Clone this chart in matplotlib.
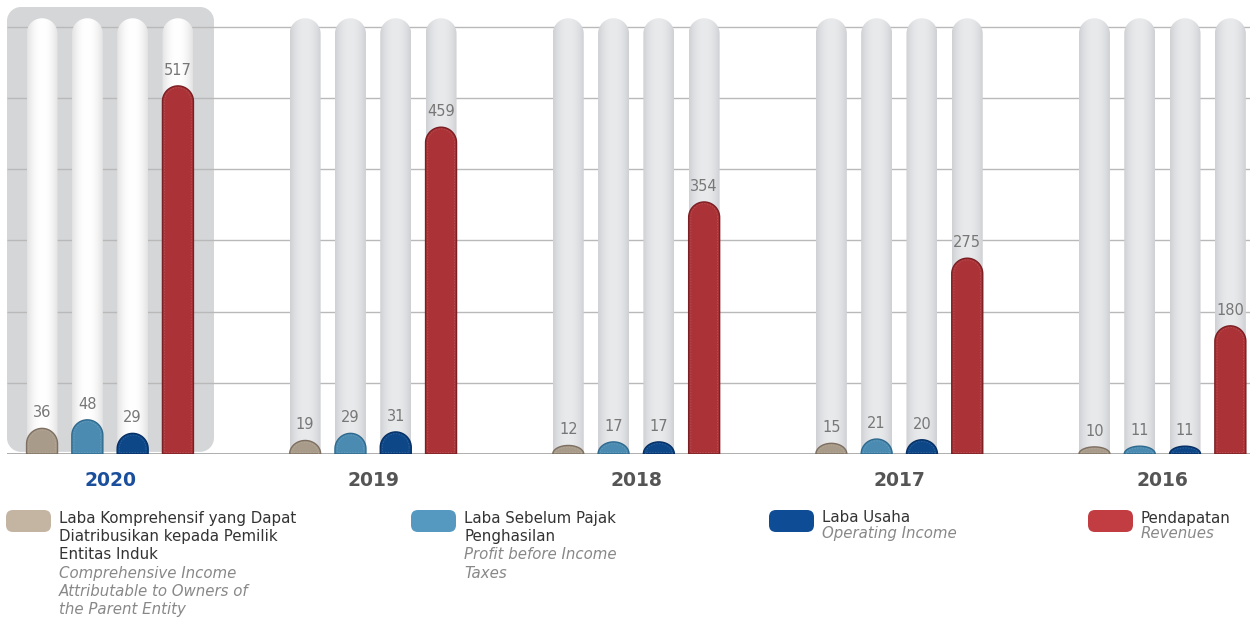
import numpy as np
import matplotlib.pyplot as plt
from matplotlib.path import Path
from matplotlib.patches import PathPatch, FancyBboxPatch
from matplotlib.colors import LinearSegmentedColormap

plt.rcParams["font.family"] = ["DejaVu Sans"]

years = ["2020", "2019", "2018", "2017", "2016"]
comprehensive = [36, 19, 12, 15, 10]
before_tax = [48, 29, 17, 21, 11]
operating = [29, 31, 17, 20, 11]
revenues = [517, 459, 354, 275, 180]
series = [comprehensive, before_tax, operating, revenues]

bar_colors = ["#a89b89", "#4b8bb1", "#0d4788", "#ab3337"]
edge_colors = ["#7d7062", "#2f6a8e", "#062f63", "#7a1f23"]
swatch_colors = ["#c4b4a2", "#5599c0", "#0f4c96", "#c23d42"]
legend_main = [
    ["Laba Komprehensif yang Dapat", "Diatribusikan kepada Pemilik", "Entitas Induk"],
    ["Laba Sebelum Pajak", "Penghasilan"],
    ["Laba Usaha"],
    ["Pendapatan"],
]
legend_sub = [
    ["Comprehensive Income", "Attributable to Owners of", "the Parent Entity"],
    ["Profit before Income", "Taxes"],
    ["Operating Income"],
    ["Revenues"],
]

# pixel geometry
W, H = 1250, 619
base_px = 454
px_per_val = 0.712
group_px = 263.1
first_center = 110
ymax = base_px / px_per_val

fig = plt.figure(figsize=(W / 100, H / 100), dpi=100)
ax = fig.add_axes([0, (H - base_px) / H, 1, base_px / H])
xl = (0 - first_center) / group_px
xr = (W - first_center) / group_px


def px2x(p):
    return (p - first_center) / group_px


def rounded_box(x0, x1, y0, y1, rx, ry_top, ry_bot):
    t = np.linspace(0, np.pi / 2, 24)
    tr = np.c_[x1 - rx + rx * np.cos(t), y1 - ry_top + ry_top * np.sin(t)]
    tl = np.c_[x0 + rx + rx * np.cos(t + np.pi / 2), y1 - ry_top + ry_top * np.sin(t + np.pi / 2)]
    bl = np.c_[x0 + rx + rx * np.cos(t + np.pi), y0 + ry_bot + ry_bot * np.sin(t + np.pi)]
    br = np.c_[x1 - rx + rx * np.cos(t + 1.5 * np.pi), y0 + ry_bot + ry_bot * np.sin(t + 1.5 * np.pi)]
    verts = np.vstack([tr, tl, bl, br, tr[:1]])
    return Path(verts, closed=True)


bw = 31 / group_px
step = 45.3 / group_px
rx = bw / 2
ry = (bw / 2) * group_px / px_per_val
pill_top = 612

# highlight for first group
hr = 14
hl = rounded_box(px2x(7), px2x(214), 3, (base_px - 7) / px_per_val,
                 hr / group_px, hr / px_per_val, hr / px_per_val)
ax.add_patch(PathPatch(hl, facecolor="#d5d6d8", edgecolor="none", zorder=0))

# grid
for v in range(0, 700, 100):
    ax.hlines(v, px2x(7), xr, color="#b9b9b9" if v else "#a8a8a8",
              lw=1.0 if v else 1.3, zorder=1)

grad = np.abs(np.linspace(-1, 1, 80)) ** 2.2
grad = np.tile(grad, (2, 1))
cmap_gray = LinearSegmentedColormap.from_list("g", ["#e9eaec", "#cfd0d3"])
cmap_white = LinearSegmentedColormap.from_list("w", ["#ffffff", "#e2e2e3"])

for i, yr in enumerate(years):
    for j, vals in enumerate(series):
        cx = i + (j - 1.5) * step
        x0, x1 = cx - bw / 2, cx + bw / 2
        # background pill
        pp = PathPatch(rounded_box(x0, x1, 0, pill_top, rx, ry, 0),
                       facecolor="none", edgecolor="none", transform=ax.transData)
        ax.add_patch(pp)
        im = ax.imshow(grad, extent=[x0, x1, 0, pill_top], aspect="auto",
                       cmap=cmap_white if i == 0 else cmap_gray, zorder=2,
                       interpolation="bicubic")
        im.set_clip_path(pp)
        # value bar
        v = vals[i]
        ax.add_patch(PathPatch(rounded_box(x0, x1, 0, v, rx, min(ry, v), 0),
                               facecolor=bar_colors[j], edgecolor=edge_colors[j],
                               lw=1.0, zorder=3))
        ins = 2.2 / group_px
        ax.add_patch(PathPatch(rounded_box(x0 + ins, x1 - ins, 2, v - 2.5, rx - ins,
                                           max(min(ry, v) - 3, 1), 0),
                               facecolor="none", edgecolor="white", alpha=0.18,
                               lw=0.5, ls=(0, (2, 2)), zorder=3))
        ax.text(cx, v + 8 / px_per_val, str(v), ha="center", va="bottom",
                fontsize=10.5, color="#777777", zorder=4)
    ax.text(i, -27 / px_per_val, yr, ha="center", va="center", fontsize=13.5,
            fontweight="bold", color="#1b4f9c" if i == 0 else "#555555", clip_on=False)

ax.set_xlim(xl, xr)
ax.set_ylim(0, ymax)
ax.axis("off")

# legend in pixel space
lax = fig.add_axes([0, 0, 1, 1], zorder=-1)
lax.set_xlim(0, W)
lax.set_ylim(H, 0)
lax.axis("off")
sw_x = [6, 411, 769, 1088]
spacing = [18.4, 18.4, 15.5, 15.5]
for k in range(4):
    lax.add_patch(FancyBboxPatch((sw_x[k], 510), 45, 22,
                                 boxstyle="round,pad=0,rounding_size=7",
                                 facecolor=swatch_colors[k], edgecolor="none"))
    y = 518
    for line in legend_main[k]:
        lax.text(sw_x[k] + 53, y, line, ha="left", va="center", fontsize=10.8,
                 color="#333333")
        y += spacing[k]
    for line in legend_sub[k]:
        lax.text(sw_x[k] + 53, y, line, ha="left", va="center", fontsize=10.8,
                 color="#888888", style="italic")
        y += spacing[k]

fig.savefig("out.png", dpi=100)
